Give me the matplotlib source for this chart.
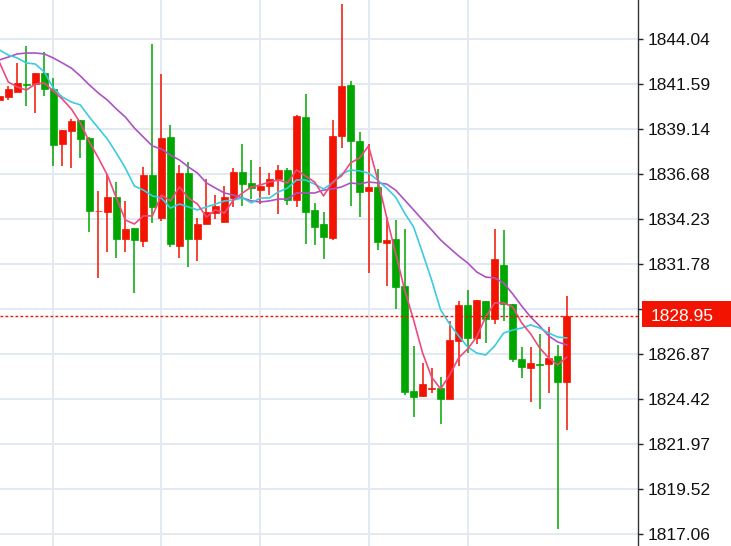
import matplotlib
matplotlib.use("Agg")
import matplotlib.pyplot as plt
import matplotlib.transforms as mtransforms
from matplotlib.patches import Rectangle
import numpy as np

# OHLC (red = up, green = down)
opens = [1840.73, 1840.89, 1841.17, 1841.60, 1841.60, 1842.20, 1841.33, 1838.33, 1839.04, 1839.64,
         1838.66, 1834.66, 1834.63, 1835.44, 1833.15, 1833.75, 1833.05, 1836.64, 1834.30, 1838.71,
         1832.77, 1836.75, 1833.15, 1833.97, 1834.57, 1834.08, 1835.39, 1836.81, 1836.21, 1835.82,
         1836.04, 1836.42, 1836.92, 1835.28, 1839.80, 1834.74, 1833.97, 1833.21, 1838.77, 1841.55,
         1838.50, 1835.77, 1835.99, 1832.94, 1833.15, 1830.59, 1824.87, 1824.60, 1824.98, 1825.03,
         1824.43, 1827.60, 1829.56, 1827.76, 1829.78, 1828.79, 1831.74, 1829.61, 1826.61, 1826.12,
         1826.34, 1826.34, 1826.78, 1825.36]
highs = [1841.17, 1841.49, 1842.75, 1843.67, 1842.20, 1843.35, 1841.93, 1839.10, 1839.69, 1839.64,
         1838.71, 1835.77, 1836.70, 1836.26, 1835.23, 1833.75, 1837.08, 1843.78, 1842.15, 1839.37,
         1837.19, 1837.35, 1834.30, 1836.42, 1835.55, 1836.04, 1837.02, 1838.33, 1837.46, 1837.08,
         1836.75, 1837.19, 1837.02, 1839.91, 1841.06, 1835.12, 1834.63, 1839.64, 1845.96, 1841.77,
         1838.99, 1838.33, 1836.97, 1834.35, 1834.19, 1833.70, 1827.32, 1826.40, 1826.12, 1825.63,
         1828.69, 1829.78, 1830.38, 1829.83, 1829.78, 1833.70, 1833.65, 1829.61, 1827.27, 1827.27,
         1827.98, 1828.36, 1827.38, 1830.05]
lows = [1840.46, 1840.73, 1841.17, 1840.40, 1840.02, 1840.95, 1837.13, 1837.13, 1837.02, 1837.57,
        1833.54, 1831.03, 1832.45, 1832.12, 1832.45, 1830.21, 1832.72, 1834.03, 1834.14, 1832.72,
        1832.12, 1831.63, 1831.96, 1833.97, 1834.24, 1834.08, 1834.90, 1834.95, 1835.33, 1835.06,
        1835.55, 1834.52, 1835.01, 1834.90, 1832.88, 1832.83, 1832.06, 1833.10, 1838.11, 1834.95,
        1834.35, 1831.30, 1832.55, 1830.59, 1829.34, 1824.65, 1823.45, 1824.54, 1824.76, 1823.07,
        1824.43, 1826.23, 1826.94, 1827.43, 1827.49, 1828.52, 1828.69, 1826.45, 1825.58, 1824.27,
        1823.89, 1824.76, 1817.35, 1822.75]
closes = [1840.95, 1841.33, 1841.66, 1841.57, 1842.20, 1841.33, 1838.28, 1839.10, 1839.59, 1838.60,
          1834.68, 1834.70, 1835.44, 1833.15, 1833.70, 1833.10, 1836.64, 1834.90, 1838.66, 1832.88,
          1836.75, 1833.15, 1833.97, 1834.63, 1834.95, 1835.44, 1836.81, 1836.15, 1835.93, 1836.04,
          1836.42, 1836.92, 1835.28, 1839.86, 1834.63, 1833.81, 1833.26, 1838.77, 1841.49, 1838.50,
          1835.72, 1835.99, 1832.99, 1833.10, 1830.54, 1824.82, 1824.54, 1825.25, 1825.03, 1824.43,
          1827.65, 1829.56, 1827.76, 1829.83, 1828.79, 1832.06, 1829.61, 1826.61, 1826.18, 1826.40,
          1826.31, 1826.67, 1825.36, 1828.95]

# moving averages
ma_short = [1842.80, 1841.71, 1841.44, 1841.27, 1841.60, 1841.66, 1841.22, 1840.78, 1840.24, 1839.48,
            1838.44, 1837.57, 1836.64, 1835.39, 1834.19, 1833.97, 1834.41, 1834.41, 1835.55, 1835.23,
            1835.99, 1835.39, 1835.06, 1834.35, 1834.74, 1834.57, 1835.28, 1835.66, 1835.99, 1836.10,
            1836.26, 1836.37, 1836.21, 1836.92, 1836.59, 1836.26, 1835.50, 1836.26, 1836.59, 1837.30,
            1837.57, 1838.22, 1836.42, 1834.35, 1832.39, 1830.38, 1828.74, 1826.94, 1825.63, 1824.98,
            1825.74, 1826.67, 1827.16, 1827.81, 1828.90, 1829.67, 1829.67, 1829.45, 1828.58, 1827.98,
            1827.21, 1826.67, 1826.29, 1826.72]
ma_mid = [1843.46, 1843.18, 1843.02, 1842.75, 1842.69, 1842.26, 1841.38, 1840.89, 1840.62, 1840.46,
          1839.80, 1839.20, 1838.60, 1837.84, 1837.02, 1836.04, 1835.82, 1835.50, 1835.39, 1834.84,
          1835.06, 1834.90, 1834.74, 1834.90, 1835.06, 1835.23, 1835.28, 1835.39, 1835.12, 1835.39,
          1835.39, 1835.72, 1835.93, 1836.37, 1836.37, 1836.15, 1835.88, 1836.21, 1836.70, 1836.92,
          1836.86, 1836.75, 1836.37, 1835.93, 1835.44, 1834.57, 1833.81, 1832.39, 1830.92, 1829.29,
          1828.52, 1827.87, 1827.27, 1826.94, 1826.83, 1827.32, 1828.03, 1828.19, 1828.30, 1828.47,
          1828.30, 1828.03, 1827.81, 1827.76]
ma_long = [1842.91, 1843.07, 1843.24, 1843.29, 1843.29, 1843.24, 1843.02, 1842.75, 1842.47, 1842.04,
           1841.55, 1841.11, 1840.73, 1840.24, 1839.80, 1839.20, 1838.71, 1838.22, 1838.06, 1837.73,
           1837.46, 1837.08, 1836.75, 1836.21, 1835.93, 1835.66, 1835.55, 1835.39, 1835.23, 1835.17,
           1835.23, 1835.33, 1835.33, 1835.66, 1835.66, 1835.66, 1835.82, 1835.88, 1835.99, 1836.21,
           1836.15, 1836.26, 1836.21, 1836.15, 1835.82, 1835.28, 1834.74, 1834.19, 1833.65, 1833.10,
           1832.66, 1832.23, 1831.85, 1831.36, 1831.08, 1831.03, 1830.76, 1830.16, 1829.50, 1828.90,
           1828.41, 1827.87, 1827.54, 1827.38]

price_ticks = ["1817.06", "1819.52", "1821.97", "1824.42", "1826.87", "1829.33",
               "1831.78", "1834.23", "1836.68", "1839.14", "1841.59", "1844.04"]
top_tick = "1846.49"
last_price = 1828.95
grid_candles = [6, 18, 29, 41, 52]

UP = '#f21400'
DOWN = '#00a600'
GRID = '#e2e9f0'

fig = plt.figure(figsize=(7.31, 5.46), dpi=100)
ax = fig.add_axes([0, 0, 637.5 / 731, 1])

o = np.array(opens)
h = np.array(highs)
l = np.array(lows)
c = np.array(closes)
x = np.arange(len(o))
cols = np.where(c >= o, UP, DOWN)

ax.vlines(x, l, h, colors=cols, lw=1.1, zorder=3)
ax.bar(x, np.maximum(np.abs(c - o), 0.03), bottom=np.minimum(o, c), width=0.74,
       color=cols, edgecolor=cols, lw=0.5, zorder=4)

ax.plot(x, ma_long, color='#ad52c4', lw=1.2, zorder=5)
ax.plot(x, ma_mid, color='#3ccbe0', lw=1.2, zorder=5)
ax.plot(x, ma_short, color='#ee4a80', lw=1.2, zorder=6)

ax.axhline(last_price, color=UP, lw=1.0, ls=(0, (2, 1.6)), zorder=7)

for g in grid_candles:
    ax.axvline(g, color=GRID, lw=1.4, zorder=0)

tick_vals = [float(t) for t in price_ticks]
ax.set_yticks(tick_vals)
ax.set_yticklabels(price_ticks)
ax.grid(axis='y', color=GRID, lw=1.4, zorder=0)
ax.set_axisbelow(True)

ax.set_xlim(0.08, 70.86)
ax.set_ylim(1816.42, 1846.18)

ax.yaxis.tick_right()
ax.tick_params(axis='y', direction='out', length=3.5, width=1, pad=4,
               labelsize=12.5, colors='#222222', labelcolor='#111111')
for lab in ax.get_yticklabels():
    lab.set_fontfamily('Liberation Sans')
ax.set_xticks([])
for s in ['left', 'top', 'bottom']:
    ax.spines[s].set_visible(False)
ax.spines['right'].set_color('#333333')
ax.spines['right'].set_linewidth(1.0)

trans = mtransforms.blended_transform_factory(ax.transAxes, ax.transData)
ax.text(1.021, float(top_tick), top_tick, transform=trans, fontsize=12.5,
        family='Liberation Sans', color='#111111', va='center', ha='left', clip_on=False)

# current price tag, covering most of the hidden tick label
box = Rectangle((1.0066, last_price - 0.62), 0.16, 1.47, transform=trans,
                facecolor=UP, edgecolor='none', clip_on=False, zorder=10)
ax.add_patch(box)
ax.text(1.021, last_price, f"{last_price:.2f}", transform=trans, fontsize=12.5,
        family='Liberation Sans', color='white', va='center', ha='left',
        clip_on=False, zorder=11)

fig.savefig('out.png', dpi=100, facecolor='white')
